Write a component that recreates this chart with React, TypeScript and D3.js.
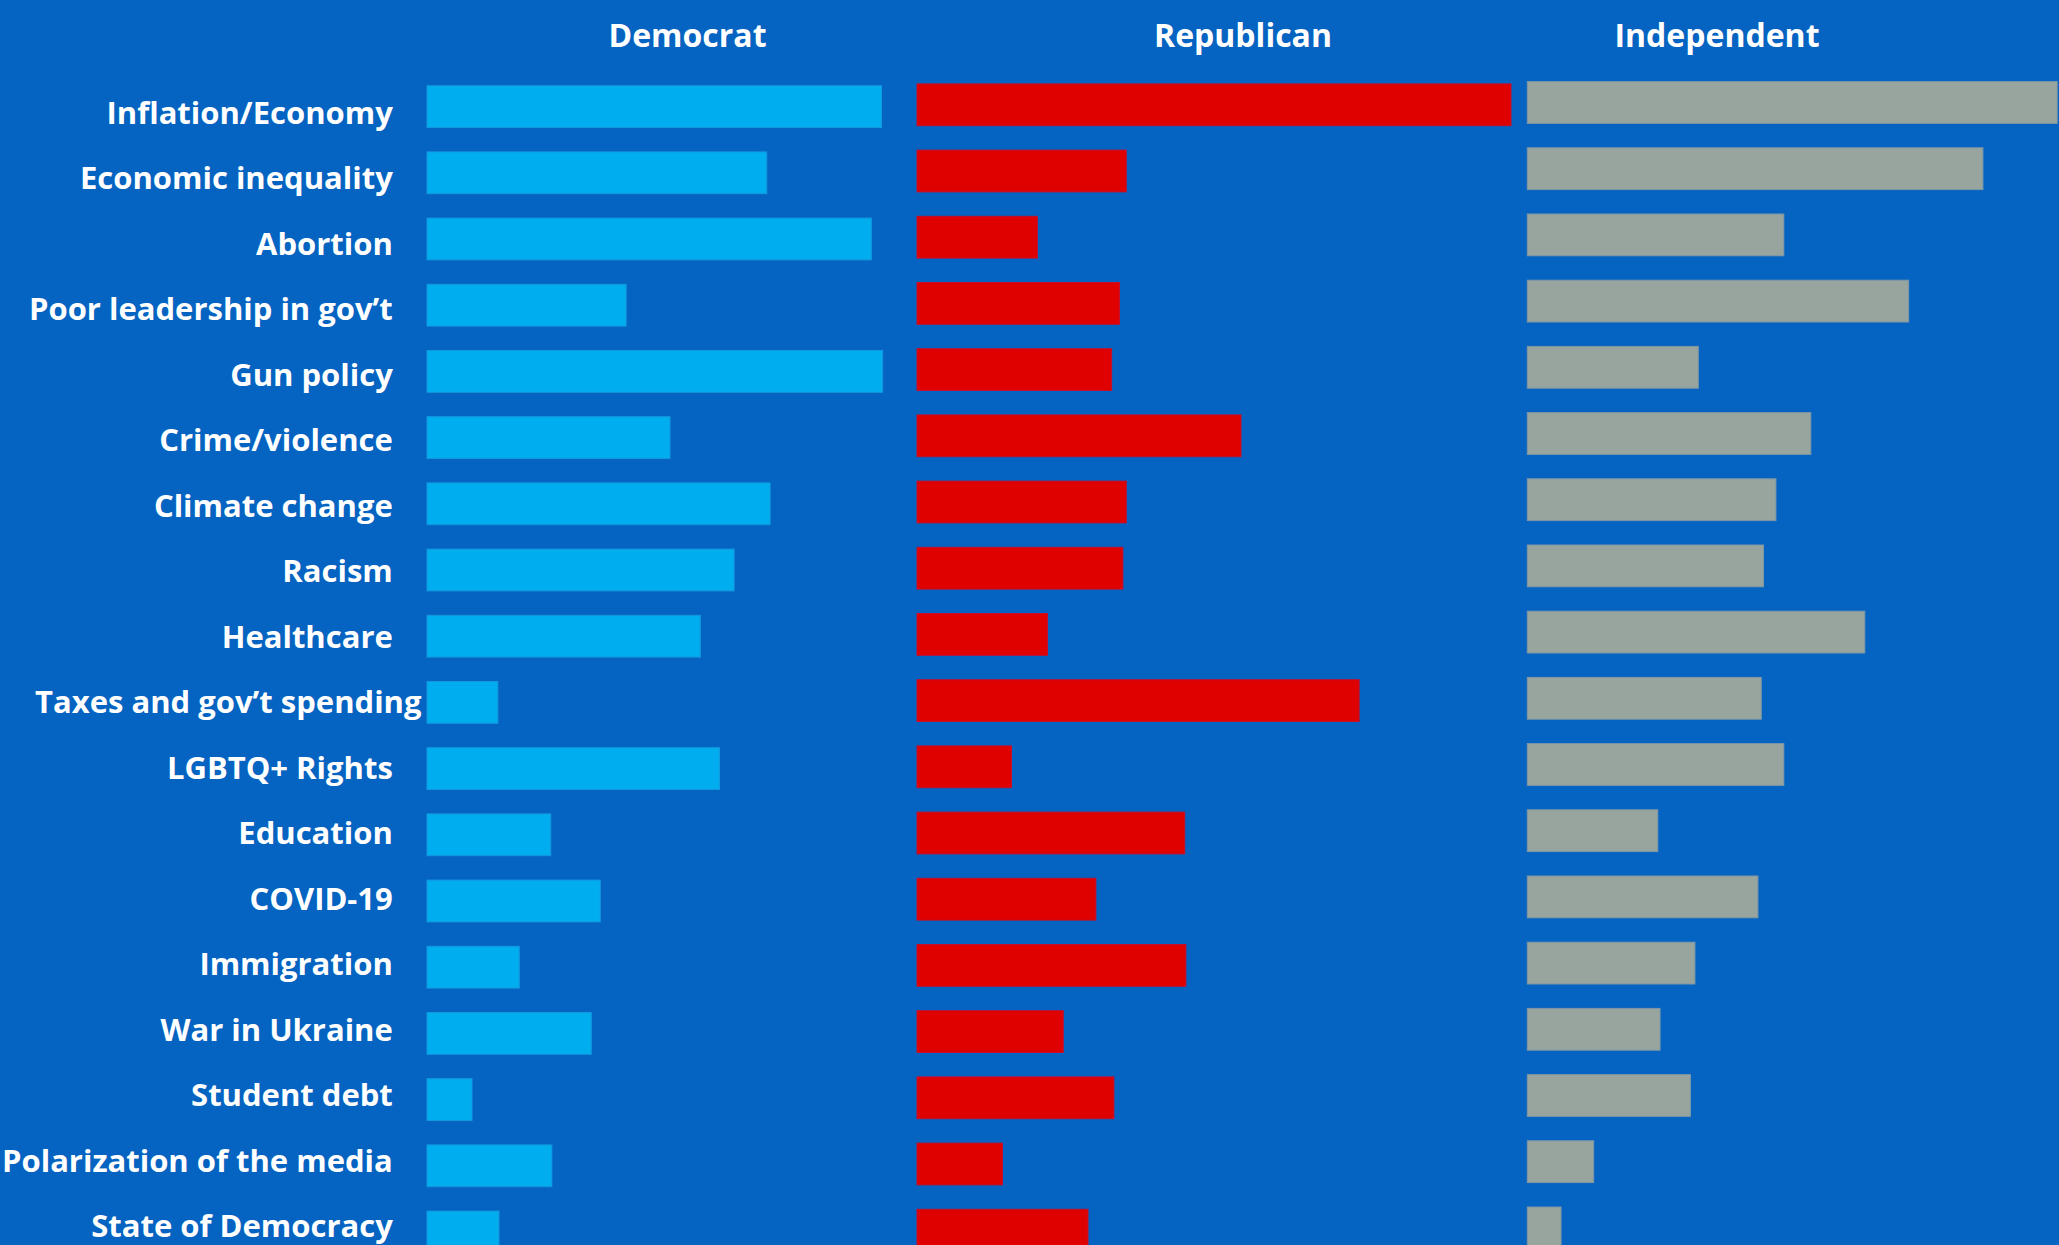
import React from "react";
import * as d3 from "d3";

const categories = [
  "Inflation/Economy",
  "Economic inequality",
  "Abortion",
  "Poor leadership in gov’t",
  "Gun policy",
  "Crime/violence",
  "Climate change",
  "Racism",
  "Healthcare",
  "Taxes and gov’t spending",
  "LGBTQ+ Rights",
  "Education",
  "COVID-19",
  "Immigration",
  "War in Ukraine",
  "Student debt",
  "Polarization of the media",
  "State of Democracy",
];

const democrat = [40.4, 30.2, 39.5, 17.7, 40.5, 21.6, 30.5, 27.3, 24.3, 6.3, 26.0, 11.0, 15.4, 8.2, 14.6, 4.0, 11.1, 6.4];
const republican = [52.8, 18.6, 10.7, 18.0, 17.3, 28.8, 18.6, 18.3, 11.6, 39.3, 8.4, 23.8, 15.9, 23.9, 13.0, 17.5, 7.6, 15.2];
const independent = [47.1, 40.5, 22.8, 33.9, 15.2, 25.2, 22.1, 21.0, 30.0, 20.8, 22.8, 11.6, 20.5, 14.9, 11.8, 14.5, 5.9, 3.0];

const partyNames = ["Democrat", "Republican", "Independent"];

const W = 2059;
const H = 1245;
const BG = "#0563C1";
const FONT = "'Open Sans', 'Noto Sans', sans-serif";

export default function App() {
  const x = d3.scaleLinear().domain([0, 100]).range([0, 1125]);
  const step = 66.2;
  const pad = 0.3686;

  const panels = [
    { name: partyNames[0], values: democrat, x0: 427, y0: 73.5, titleX: 687.5, fill: "#00AEEF", stroke: "#1497DD" },
    { name: partyNames[1], values: republican, x0: 917, y0: 71.7, titleX: 1243, fill: "#DF0000", stroke: "#C4102E" },
    { name: partyNames[2], values: independent, x0: 1527.3, y0: 69.4, titleX: 1717, fill: "#97A59E", stroke: "#7E97A6" },
  ];

  const yLabel = d3.scalePoint().domain(categories).range([113, 113 + 17 * 65.47]);

  return (
    <div style={{ position: "fixed", left: 0, top: 0, width: W, height: H, overflow: "hidden" }}>
      <svg width={W} height={H} style={{ display: "block" }}>
        <rect x={0} y={0} width={W} height={H} fill={BG} />
        {panels.map((p) => {
          const y = d3
            .scaleBand()
            .domain(categories)
            .range([p.y0, p.y0 + categories.length * step])
            .paddingInner(pad)
            .paddingOuter(pad / 2);
          return (
            <g key={p.name}>
              <text
                x={p.titleX}
                y={46.5}
                textAnchor="middle"
                fill="#fff"
                fontFamily={FONT}
                fontWeight={700}
                fontSize={32}
              >
                {p.name}
              </text>
              {categories.map((c, i) => (
                <rect
                  key={c}
                  x={p.x0}
                  y={y(c)}
                  width={x(p.values[i])}
                  height={y.bandwidth()}
                  fill={p.fill}
                  stroke={p.stroke}
                  strokeWidth={1}
                />
              ))}
            </g>
          );
        })}
        {categories.map((c) => (
          <text
            key={c}
            x={c.startsWith("Taxes") ? 421.5 : 392.8}
            y={(yLabel(c) as number) + 11}
            textAnchor="end"
            fill="#fff"
            fontFamily={FONT}
            fontWeight={700}
            fontSize={31}
          >
            {c}
          </text>
        ))}
      </svg>
    </div>
  );
}
